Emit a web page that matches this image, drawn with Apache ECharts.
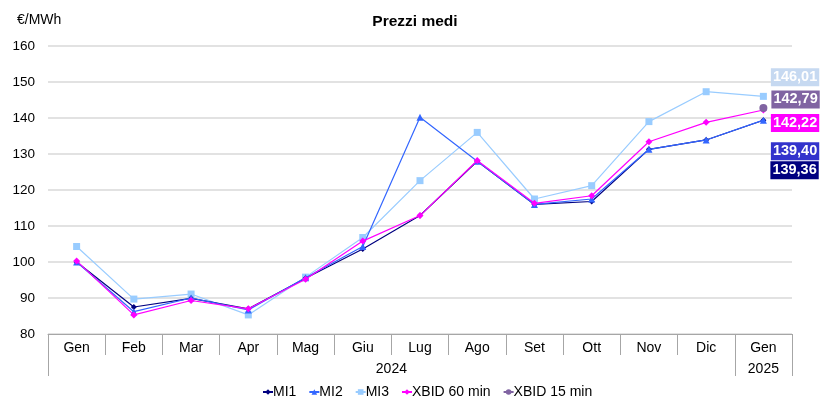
<!DOCTYPE html>
<html>
<head>
<meta charset="utf-8">
<script src="https://cdn.jsdelivr.net/npm/echarts@6/dist/echarts.min.js"></script>
<style>
  html, body { margin: 0; padding: 0; background: #fff; }
  #chart { width: 827px; height: 405px; }
</style>
</head>
<body>
<div id="chart"></div>
<script>
// mesi e anni
var mesi = ['Gen', 'Feb', 'Mar', 'Apr', 'Mag', 'Giu', 'Lug', 'Ago', 'Set', 'Ott', 'Nov', 'Dic', 'Gen'];
var anni = ['2024', '2025'];
var yTicks = [80, 90, 100, 110, 120, 130, 140, 150, 160];

// prezzi medi €/MWh
var mi1 = [100.0, 87.5, 89.9, 87.0, 95.5, 103.6, 112.9, 128.0, 116.0, 116.8, 131.3, 133.9, 139.36];
var mi2 = [100.0, 86.2, 90.0, 86.7, 95.6, 104.3, 140.2, 128.0, 116.0, 117.5, 131.3, 133.9, 139.40];
var mi3 = [104.3, 89.7, 91.1, 85.3, 95.8, 106.8, 122.6, 136.0, 117.5, 121.2, 139.0, 147.3, 146.01];
var xbid60 = [100.3, 85.3, 89.3, 87.0, 95.2, 105.8, 112.9, 128.2, 116.3, 118.4, 133.4, 138.8, 142.22];
var xbid15 = [null, null, null, null, null, null, null, null, null, null, null, null, 142.79];

var chart = echarts.init(document.getElementById('chart'));

var font = 'Liberation Sans, Arial, sans-serif';

function fmt(p) {
    return p.value.toFixed(2).replace('.', ',');
}

// etichetta solo sull'ultimo punto
function conEtichetta(arr, colore, dy) {
    return arr.map(function (v, i) {
        if (i !== arr.length - 1) return v;
        return {
            value: v,
            label: {
                show: true,
                position: 'right',
                distance: 4,
                offset: [0, dy],
                formatter: fmt,
                color: '#fff',
                fontFamily: font,
                fontSize: 14.5,
                fontWeight: 'bold',
                backgroundColor: colore,
                padding: [2, 2, 1, 2]
            }
        };
    });
}

var option = {
    animation: false,
    title: [
        {
            text: 'Prezzi medi',
            left: 410,
            textAlign: 'center',
            top: 9,
            textStyle: {fontFamily: font, fontSize: 15.5, fontWeight: 'bold', color: '#000'}
        },
        {
            text: '€/MWh',
            left: 12,
            top: 8,
            textStyle: {fontFamily: font, fontSize: 14, fontWeight: 'normal', color: '#000'}
        }
    ],
    legend: {
        bottom: 1,
        left: 257,
        itemWidth: 10,
        itemHeight: 7,
        itemGap: 12,
        textStyle: {fontFamily: font, fontSize: 14, color: '#000', padding: [0, 0, 0, -5]},
        data: ['MI1', 'MI2', 'MI3', 'XBID 60 min', 'XBID 15 min']
    },
    grid: {left: 48, right: 35, top: 46, bottom: 71},
    xAxis: [
        {
            type: 'category',
            data: mesi,
            boundaryGap: true,
            axisLine: {lineStyle: {color: '#a6a6a6', width: 1}},
            axisTick: {show: true, interval: 0, length: 21, lineStyle: {color: '#a6a6a6'}},
            axisLabel: {interval: 0, margin: 7, fontFamily: font, fontSize: 14, color: '#000'}
        },
        {
            type: 'value',
            position: 'bottom',
            min: 0,
            max: 13,
            axisLine: {show: false},
            splitLine: {show: false},
            axisTick: {show: true, customValues: [0, 12, 13], length: 42, lineStyle: {color: '#a6a6a6'}},
            axisLabel: {
                customValues: [6, 12.5],
                margin: 28,
                formatter: function (v) { return v < 12 ? anni[0] : anni[1]; },
                fontFamily: font, fontSize: 14, color: '#000'
            }
        }
    ],
    yAxis: {
        type: 'value',
        min: yTicks[0],
        max: yTicks[yTicks.length - 1],
        interval: 10,
        axisLine: {show: false},
        axisTick: {show: false},
        splitLine: {lineStyle: {color: '#d9d9d9', width: 1.5}},
        axisLabel: {margin: 13, fontFamily: font, fontSize: 13.5, color: '#000'}
    },
    series: [
        {
            name: 'MI1', type: 'line', data: conEtichetta(mi1, '#000080', 50),
            symbol: 'diamond', symbolSize: 6,
            itemStyle: {color: '#000080'}, lineStyle: {color: '#000080', width: 1.2}, z: 3
        },
        {
            name: 'MI2', type: 'line', data: conEtichetta(mi2, '#3333cc', 31),
            symbol: 'triangle', symbolSize: 7,
            itemStyle: {color: '#3366ff'}, lineStyle: {color: '#3366ff', width: 1.2}, z: 4
        },
        {
            name: 'MI3', type: 'line', data: conEtichetta(mi3, '#c6d9f1', -19),
            symbol: 'rect', symbolSize: 7,
            itemStyle: {color: '#99ccff'}, lineStyle: {color: '#99ccff', width: 1.2}, z: 2
        },
        {
            name: 'XBID 60 min', type: 'line', data: conEtichetta(xbid60, '#ff00ff', 13),
            symbol: 'diamond', symbolSize: 7,
            itemStyle: {color: '#ff00ff'}, lineStyle: {color: '#ff00ff', width: 1.2}, z: 5
        },
        {
            name: 'XBID 15 min', type: 'line', data: conEtichetta(xbid15, '#8064a2', -8.5),
            symbol: 'circle', symbolSize: 8,
            itemStyle: {color: '#8064a2'}, lineStyle: {color: '#8064a2', width: 1.2}, z: 6
        }
    ]
};

chart.setOption(option);
</script>
</body>
</html>
